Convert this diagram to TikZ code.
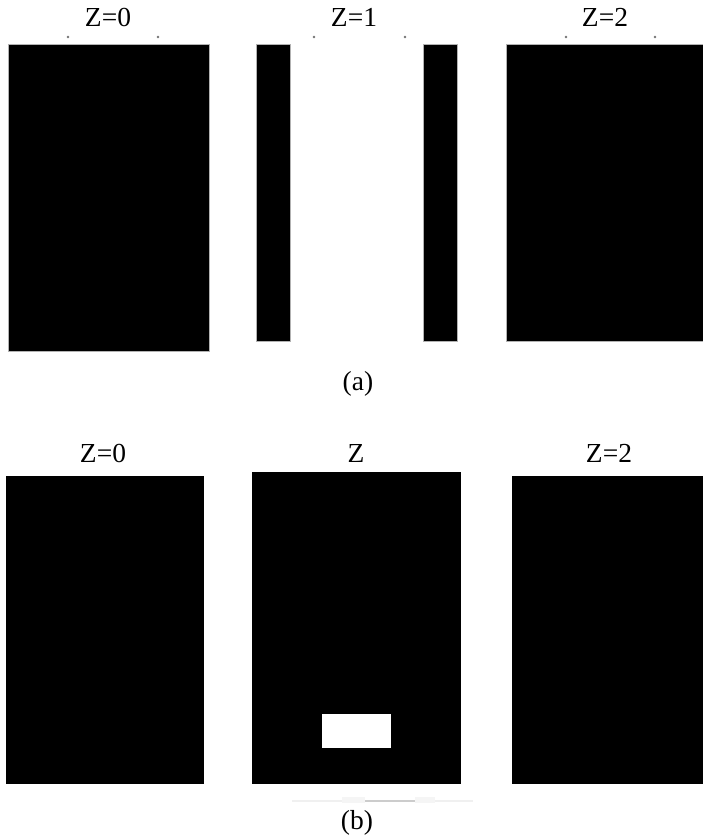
\documentclass[tikz,border=0pt]{standalone}
\usepackage{fontspec}
\setmainfont{Liberation Serif}

\tikzset{
  slice/.style={fill=black, draw=gray!60, line width=0.8pt},
  hole/.style={fill=white},
  lbl/.style={anchor=base, inner sep=0pt, font=\fontsize{27.5}{30}\selectfont},
  tick/.style={fill=black!55},
}

\begin{document}
\begin{tikzpicture}[x=1pt,y=-1pt]
  \useasboundingbox (0,0) rectangle (703,839);
  % row (a)
  \node[lbl] (za0) at (108,26) {Z=0};
  \node[lbl] (za1) at (354,26) {Z=1};
  \node[lbl] (za2) at (605,26) {Z=2};
  \foreach \x in {68,158,314,405,566,655}
    \fill[tick] (\x,37) circle (1.4);
  \filldraw[slice] (8,44) rectangle (209,351);
  \filldraw[slice] (256,44) rectangle (290,341);
  \filldraw[slice] (423,44) rectangle (457,341);
  \filldraw[slice] (506,44) rectangle (703,341);
  \node[lbl] (capa) at (358,390) {(a)};
  % row (b)
  \node[lbl] (zb0) at (103,462) {Z=0};
  \node[lbl] (zb1) at (356,462) {Z};
  \node[lbl] (zb2) at (609,462) {Z=2};
  \fill (6,476) rectangle (204,784);
  \fill (252,472) rectangle (461,784);
  \fill[hole] (322,714) rectangle (391,748);
  \fill (512,476) rectangle (703,784);
  % faint strip under the middle slice
  \fill[gray!12] (292,800) rectangle (473,802);
  \fill[gray!8] (342,797) rectangle (365,803);
  \fill[gray!8] (415,797) rectangle (435,803);
  \fill[gray!40] (365,800) rectangle (415,802);
  \node[lbl] (capb) at (357,829) {(b)};
\end{tikzpicture}
\end{document}
